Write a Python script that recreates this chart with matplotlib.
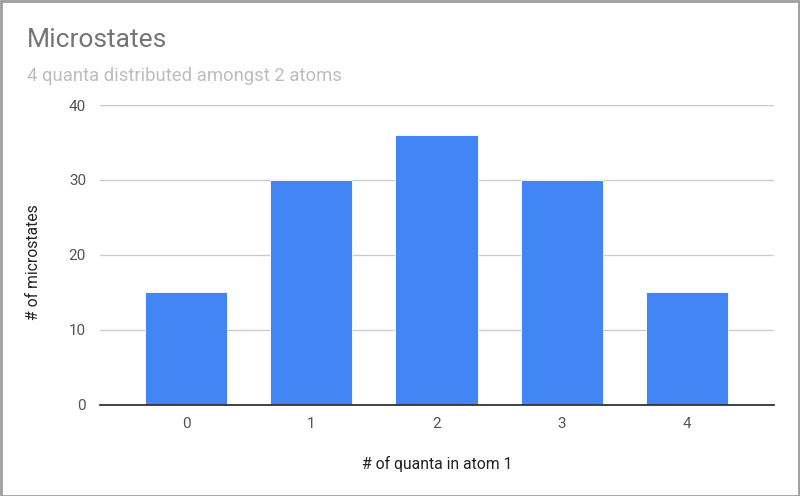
import matplotlib
matplotlib.use("Agg")
import matplotlib.pyplot as plt
from matplotlib.patches import Rectangle

plt.rcParams['font.family'] = ['Roboto', 'DejaVu Sans']

categories = ["0", "1", "2", "3", "4"]
values = [15, 30, 36, 30, 15]
yticks = [0, 10, 20, 30, 40]

fig = plt.figure(figsize=(8, 4.96), dpi=100)
ax = fig.add_axes([0.125, 0.1835, 0.8425, 0.6048])

x = list(range(len(categories)))
ax.bar(x, values, width=0.656, color="#4285F4", edgecolor="white", linewidth=0.6, zorder=3)
ax.set_xlim(-0.688, 4.696)
ax.set_ylim(0, 40)
ax.set_yticks(yticks)
ax.set_xticks(x)
ax.set_xticklabels(categories)
ax.grid(axis="y", color="#cccccc", linewidth=1, zorder=0)
for s in ["top", "right", "left"]:
    ax.spines[s].set_visible(False)
ax.spines["bottom"].set_color("#333333")
ax.spines["bottom"].set_linewidth(1.3)
ax.spines["bottom"].set_zorder(4)
ax.tick_params(axis="both", length=0, labelsize=11, colors="#555555")
ax.tick_params(axis="y", pad=10)
ax.tick_params(axis="x", pad=9)
ax.set_xlabel("# of quanta in atom 1", fontsize=11.3, color="#222222", labelpad=18)
ax.set_ylabel("# of microstates", fontsize=11.3, color="#222222", labelpad=19)
ax.yaxis.set_label_coords(-(100 - 41) / 674, 0.477)

fig.text(27/800, 1 - 40/496, "Microstates", fontsize=19, color="#757575", va="center", ha="left")
fig.text(27/800, 1 - 76/496, "4 quanta distributed amongst 2 atoms", fontsize=13.3, color="#bdbdbd", va="center", ha="left")

fig.patches.append(Rectangle((0.001, 0.001), 0.998, 0.997, transform=fig.transFigure,
                             fill=False, edgecolor="#9e9e9e", linewidth=2))

fig.savefig("out.png", dpi=100)
